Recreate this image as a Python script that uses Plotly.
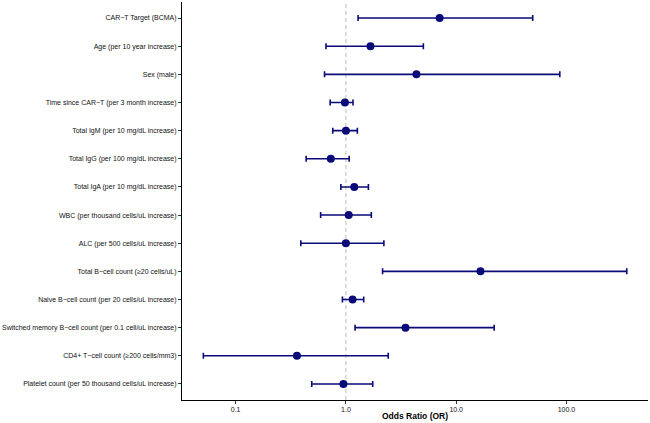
import plotly.graph_objects as go

labels = [
    "CAR−T Target (BCMA)",
    "Age (per 10 year increase)",
    "Sex (male)",
    "Time since CAR−T (per 3 month increase)",
    "Total IgM (per 10 mg/dL increase)",
    "Total IgG (per 100 mg/dL increase)",
    "Total IgA (per 10 mg/dL increase)",
    "WBC (per thousand cells/uL increase)",
    "ALC (per 500 cells/uL increase)",
    "Total B−cell count (≥20 cells/uL)",
    "Naive B−cell count (per 20 cells/uL increase)",
    "Switched memory B−cell count (per 0.1 cell/uL increase)",
    "CD4+ T−cell count (≥200 cells/mm3)",
    "Platelet count (per 50 thousand cells/uL increase)",
]
odds_ratio = [7.08, 1.67, 4.36, 0.98, 1.00, 0.73, 1.19, 1.06, 1.00, 16.6, 1.15, 3.47, 0.36, 0.95]
ci_low = [1.29, 0.66, 0.64, 0.72, 0.76, 0.436, 0.90, 0.59, 0.39, 2.15, 0.93, 1.21, 0.051, 0.49]
ci_high = [49.4, 5.04, 87.0, 1.16, 1.27, 1.07, 1.60, 1.70, 2.21, 352.0, 1.45, 22.1, 2.42, 1.75]

tick_vals = [0.1, 1, 10, 100]
tick_text = ["0.1", "1.0", "10.0", "100.0"]

ypos = list(range(len(labels)))
navy = "#0A0A78"

fig = go.Figure()
fig.add_trace(go.Scatter(
    x=odds_ratio, y=ypos, mode="markers",
    marker=dict(color=navy, size=8),
    error_x=dict(type="data", symmetric=False,
                 array=[h - o for h, o in zip(ci_high, odds_ratio)],
                 arrayminus=[o - l for o, l in zip(odds_ratio, ci_low)],
                 color=navy, thickness=1.6, width=3),
    showlegend=False,
))

fig.add_shape(type="line", xref="x", yref="paper", x0=1, x1=1, y0=0, y1=1,
              line=dict(color="#BBBBBB", width=1, dash="4px,3px"), layer="below")

fig.update_layout(
    width=650, height=423,
    margin=dict(l=179, r=2, t=2, b=23),
    paper_bgcolor="white", plot_bgcolor="white",
    font=dict(family="Liberation Sans, Arial, sans-serif", size=7, color="#111111"),
    xaxis=dict(type="log", range=[-1.486, 2.739], tickvals=tick_vals, ticktext=tick_text,
               showgrid=False, zeroline=False, showline=True, linecolor="black", linewidth=1,
               ticks="outside", ticklen=3, tickcolor="#333333", tickfont=dict(size=7),
               title=dict(text="<b>Odds Ratio (OR)</b>", font=dict(size=8.5, color="black"), standoff=0)),
    yaxis=dict(range=[13.57, -0.57], tickvals=ypos, ticktext=labels,
               showgrid=False, zeroline=False, showline=True, linecolor="black", linewidth=1,
               ticks="outside", ticklen=3, tickcolor="#333333", tickfont=dict(size=7)),
)

fig.write_html("out.html")
